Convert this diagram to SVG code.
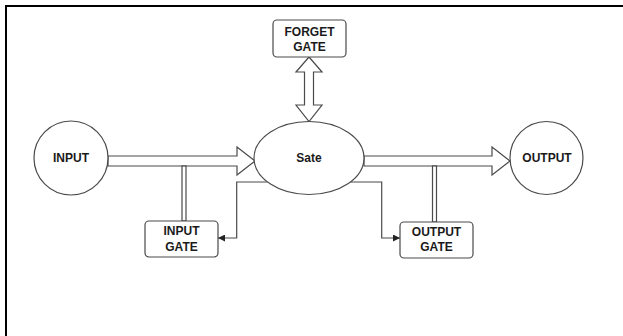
<svg xmlns="http://www.w3.org/2000/svg" width="623" height="336" viewBox="0 0 623 336">
  <defs>
    <style>
      .shape { fill: #ffffff; stroke: #4a4a4a; stroke-width: 1.2; }
      .block { fill: #ffffff; stroke: #4a4a4a; stroke-width: 1.2; stroke-linejoin: miter; }
      .conn { fill: none; stroke: #4a4a4a; stroke-width: 1.2; }
      .lbl { font-family: "Liberation Sans", Arial, sans-serif; font-size: 12px; font-weight: bold; fill: #1a1a1a; text-anchor: middle; dominant-baseline: central; }
    </style>
    <marker id="tri" viewBox="0 0 10 10" refX="10" refY="5" markerWidth="7" markerHeight="7" markerUnits="userSpaceOnUse" orient="auto">
      <path d="M0,0 L10,5 L0,10 z" fill="#222222"/>
    </marker>
  </defs>
  <rect width="623" height="336" fill="#ffffff"/>
  <path d="M6,336 V6 H623" fill="none" stroke="#000000" stroke-width="2"/>

  <g id="connectors">
    <polygon class="block" points="108,156 237,156 237,147 255,161 237,175 237,166 108,166"/>
    <polygon class="block" points="364,156 492,156 492,147 510,161 492,175 492,166 364,166"/>
    <polygon class="block" points="309,57 322,72 313.5,72 313.5,105 322,105 309,121.5 296,105 304.5,105 304.5,72 296,72"/>
    <rect class="block" x="182" y="166" width="4" height="55"/>
    <rect class="block" x="432.5" y="166" width="4" height="56"/>
    <path class="conn" d="M267.6,182 H236.7 V238 H218" marker-end="url(#tri)"/>
    <path class="conn" d="M350.4,182 H381.7 V238 H400" marker-end="url(#tri)"/>
  </g>

  <g id="input">
    <circle class="shape" cx="71" cy="158" r="37"/>
    <text class="lbl" x="71" y="158">INPUT</text>
  </g>
  <g id="sate">
    <ellipse class="shape" cx="309" cy="158" rx="55" ry="36.5"/>
    <text class="lbl" x="309" y="158">Sate</text>
  </g>
  <g id="output">
    <circle class="shape" cx="546.5" cy="158" r="36.5"/>
    <text class="lbl" x="547" y="158">OUTPUT</text>
  </g>
  <g id="forget-gate">
    <rect class="shape" x="273" y="20" width="73" height="37" rx="4"/>
    <text class="lbl" x="309.5" y="31.5">FORGET</text>
    <text class="lbl" x="309.5" y="46.5">GATE</text>
  </g>
  <g id="input-gate">
    <rect class="shape" x="145" y="221" width="73" height="36" rx="4"/>
    <text class="lbl" x="181.5" y="231">INPUT</text>
    <text class="lbl" x="181.5" y="246.5">GATE</text>
  </g>
  <g id="output-gate">
    <rect class="shape" x="400" y="222" width="73" height="36" rx="4"/>
    <text class="lbl" x="436.5" y="231.5">OUTPUT</text>
    <text class="lbl" x="436.5" y="247">GATE</text>
  </g>
</svg>
